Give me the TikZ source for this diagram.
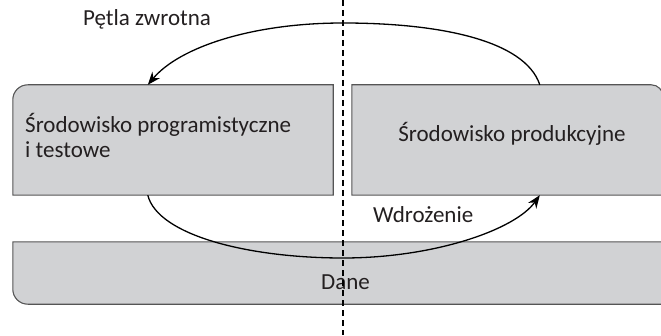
\documentclass[tikz,border=0pt]{standalone}
\usepackage{fontspec}
\setmainfont{Carlito}
\usetikzlibrary{arrows.meta}
\definecolor{boxfill}{RGB}{209,210,212}
\definecolor{boxline}{RGB}{85,85,85}
\definecolor{txt}{RGB}{35,31,32}
\tikzset{
  boxnode/.style={rectangle, inner sep=0pt, draw=none},
  boxshape/.style={fill=boxfill, draw=boxline, line width=1.1pt},
  lbl/.style={inner sep=0pt, text=txt, font=\fontsize{23}{25}\selectfont},
  flow/.style={line width=1.3pt, black, -{Stealth[length=13pt,width=10pt]}},
  divider/.style={line width=1.3pt, black, dash pattern=on 6pt off 4pt}
}
\begin{document}
\begin{tikzpicture}[x=1pt,y=1pt]
\useasboundingbox (0,0) rectangle (661,335);
% box nodes
\node[boxnode, minimum width=320pt, minimum height=110pt] (dev) at (173,195) {};
\node[boxnode, minimum width=311pt, minimum height=110pt] (prod) at (507.5,195) {};
\node[boxnode, minimum width=650pt, minimum height=62pt] (data) at (338,62) {};
% shapes
\path[boxshape] (dev.south west) -- ([yshift=-15pt]dev.north west) arc[start angle=180, end angle=90, radius=15pt] -- (dev.north east) -- (dev.south east) -- cycle;
\path[boxshape] (prod.south west) -- (prod.north west) -- ([xshift=-12pt]prod.north east) arc[start angle=90, end angle=0, radius=12pt] -- (prod.south east) -- cycle;
\path[boxshape] (data.north west) -- ([yshift=15pt]data.south west) arc[start angle=180, end angle=270, radius=15pt] -- (data.south east) -- (data.north east) -- cycle;
% labels
\node[lbl, anchor=base west, align=left] (devtxt) at (25,177) {Środowisko programistyczne\\i testowe};
\node[lbl, anchor=base] (prodtxt) at (512,193) {Środowisko produkcyjne};
\node[lbl, anchor=base west] (datatxt) at (321,46) {Dane};
\node[lbl, anchor=base west] (fbtxt) at (83,309) {Pętla zwrotna};
\node[lbl, anchor=base west] (dptxt) at (373,113) {Wdrożenie};
% connector points
\coordinate (fbs) at ([xshift=188pt]prod.north west);
\coordinate (fbe) at ([xshift=135pt]dev.north west);
\coordinate (fbpeak) at (343,312);
\coordinate (dps) at ([xshift=135pt]dev.south west);
\coordinate (dpe) at ([xshift=188pt]prod.south west);
\coordinate (dpbot) at (343,77);
% connectors
\draw[flow] (fbs) .. controls +(-15,45) and +(95,0) .. (fbpeak) .. controls +(-90,0) and +(32,38) .. (fbe);
\draw[flow] (dps) .. controls +(10,-40) and +(-95,0) .. (dpbot) .. controls +(90,0) and +(-25,-35) .. (dpe);
% divider
\coordinate (divtop) at (343,335);
\coordinate (divbot) at (343,0);
\draw[divider] (divtop) -- (divbot);
\end{tikzpicture}
\end{document}
